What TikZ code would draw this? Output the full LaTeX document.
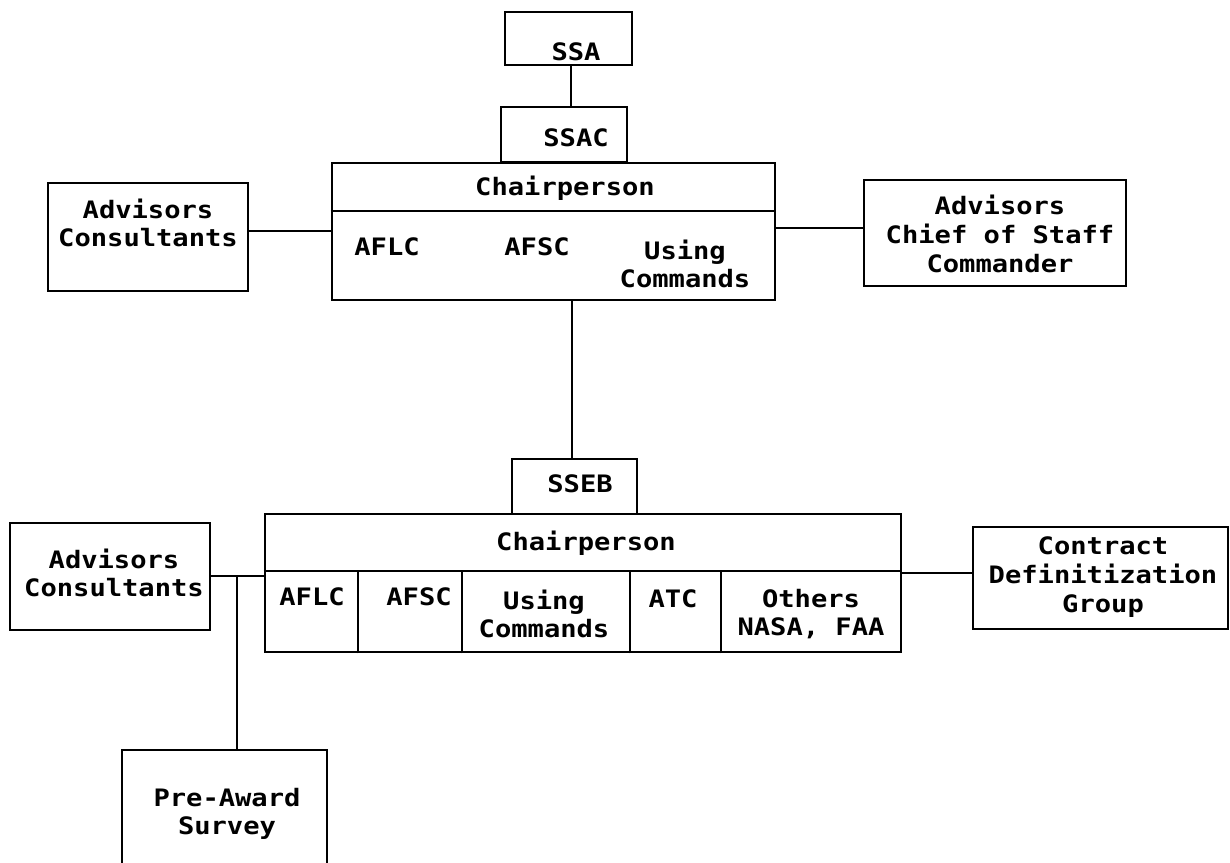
\documentclass[tikz,border=0pt]{standalone}
\usepackage{fontspec}
\newfontfamily\dfont[FakeStretch=1.13]{DejaVu Sans Mono}
\usetikzlibrary{fit}
\begin{document}
\begin{tikzpicture}[x=0.5pt,y=-0.5pt,
  box/.style={draw, line width=1.4pt, inner sep=0pt},
  lbl/.style={font=\dfont\bfseries\fontsize{12}{14.3}\selectfont, align=center, inner sep=0pt},
  conn/.style={line width=1.4pt}]
\useasboundingbox[fill=white] (0,0) rectangle (1230,862);
% boxes
\node[box, fit={(505,12) (632,65)}] (ssa) {};
\node[box, fit={(501,107) (627,162)}] (ssac) {};
\node[box, fit={(332,163) (775,300)}] (chair) {};
\node[box, fit={(48,183) (248,291)}] (adv1) {};
\node[box, fit={(864,180) (1126,286)}] (adv2) {};
\node[box, fit={(512,459) (637,514)}] (sseb) {};
\node[box, fit={(265,514) (901,652)}] (board) {};
\node[box, fit={(10,523) (210,630)}] (adv3) {};
\node[box, fit={(973,527) (1228,629)}] (cdg) {};
\node[box, fit={(122,750) (327,900)}] (pre) {};
% dividers
\draw[conn] (chair.west |- 0,211) -- (chair.east |- 0,211);
\draw[conn] (board.west |- 0,571) -- (board.east |- 0,571);
\foreach \cx in {358,462,630,721}
  \draw[conn] (board.south -| \cx,0) -- (\cx,571);
% labels
\node[lbl] (tssa) at (576,52) {SSA};
\node[lbl] (tssac) at (576,138) {SSAC};
\node[lbl] (tch1) at (565,188) {Chairperson};
\node[lbl] (tafl1) at (387,247) {AFLC};
\node[lbl] (tafs1) at (537,247) {AFSC};
\node[lbl] (tuse1) at (685,264) {Using\\Commands};
\node[lbl] (tadv1) at (148,223) {Advisors\\Consultants};
\node[lbl] (tadv2) at (1000,234) {Advisors\\Chief of Staff\\Commander};
\node[lbl] (tsseb) at (580,484) {SSEB};
\node[lbl] (tch2) at (586,543) {Chairperson};
\node[lbl] (tafl2) at (312,597) {AFLC};
\node[lbl] (tafs2) at (419,597) {AFSC};
\node[lbl] (tuse2) at (544,614) {Using\\Commands};
\node[lbl] (tatc) at (673,599) {ATC};
\node[lbl] (toth) at (811,614) {Others\\NASA, FAA};
\node[lbl] (tadv3) at (114,573) {Advisors\\Consultants};
\node[lbl] (tcdg) at (1103,577) {Contract\\Definitization\\Group};
\node[lbl] (tpre) at (227,814) {Pre-Award\\Survey};
% connectors
\draw[conn] (ssa.south -| 571,0) -- (ssac.north -| 571,0);
\draw[conn] (chair.south -| 572,0) -- (sseb.north -| 572,0);
\draw[conn] (adv1.east |- 0,231) -- (chair.west |- 0,231);
\draw[conn] (chair.east |- 0,228) -- (adv2.west |- 0,228);
\draw[conn] (adv3.east |- 0,576) -- (board.west |- 0,576);
\coordinate (j) at (237,576);
\draw[conn] (j) -- (pre.north -| j);
\draw[conn] (board.east |- 0,573) -- (cdg.west |- 0,573);
\end{tikzpicture}
\end{document}
